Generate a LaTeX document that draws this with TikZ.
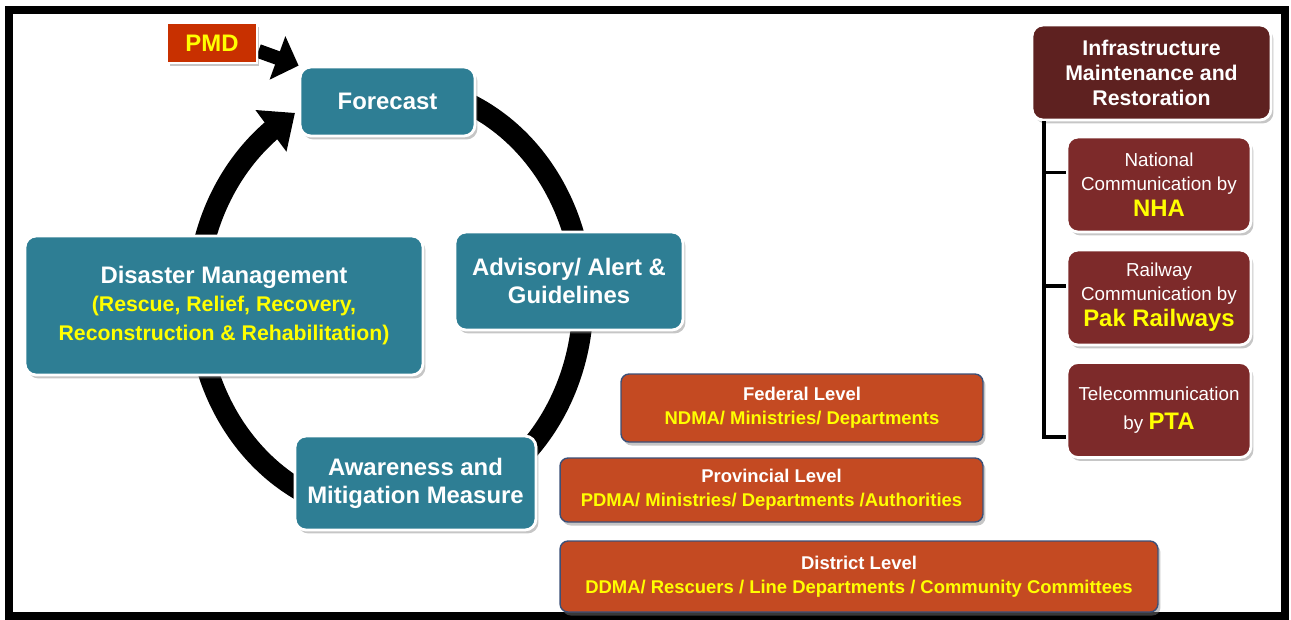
\documentclass[tikz,border=0pt]{standalone}
\usepackage{fontspec}
\setmainfont{Liberation Sans}
\usetikzlibrary{arrows.meta,bending,shadows,backgrounds}

\definecolor{cycleteal}{RGB}{46,126,148}
\definecolor{pmdred}{RGB}{200,48,0}
\definecolor{levelorange}{RGB}{196,74,34}
\definecolor{levelrim}{RGB}{60,80,120}
\definecolor{infradark}{RGB}{94,33,32}
\definecolor{infrared}{RGB}{125,42,42}
\definecolor{hiyellow}{RGB}{255,255,0}

\newcommand{\cyclefont}{\fontsize{13.6}{16}\selectfont\bfseries}
\newcommand{\subfont}{\fontsize{12.1}{16}\selectfont\bfseries\color{hiyellow}}
\newcommand{\levelfont}{\fontsize{10.5}{13.6}\selectfont\bfseries}
\newcommand{\infrafont}{\fontsize{12.1}{14.2}\selectfont\bfseries}
\newcommand{\commfont}{\fontsize{10.7}{13.8}\selectfont}
\newcommand{\tagfont}{\fontsize{13.6}{16}\selectfont\bfseries\color{hiyellow}}

\begin{document}
\begin{tikzpicture}[x=0.02cm,y=-0.02cm,
		box/.style={rounded corners=0.22cm, align=center, text=white, inner sep=0pt,
			drop shadow={shadow xshift=0.05cm,shadow yshift=-0.07cm,opacity=0.45}},
		cyclebox/.style={box, fill=cycleteal, draw=white, line width=1.6pt, font=\cyclefont},
		levelbox/.style={box, rounded corners=0.16cm, fill=levelorange, draw=levelrim, line width=0.8pt, font=\levelfont},
		infrabox/.style={box, fill=infradark, draw=white, line width=1.6pt, font=\infrafont},
		commbox/.style={infrabox, fill=infrared, font=\commfont, minimum width=3.68cm, minimum height=1.9cm},
		ring/.style={line width=0.42cm, -{Triangle[length=0.6cm,width=1cm]}},
		feed/.style={line width=0.28cm, -{Triangle[length=0.45cm,width=0.9cm]}},
		branch/.style={line width=2.2pt}]
	\useasboundingbox (0,0) rectangle (1291,619);
	\draw [line width=0.16cm] (9,10) rectangle (1284.5,615.5);

	\node [cyclebox, fill=pmdred, rounded corners=0pt, text=hiyellow, minimum width=1.8cm, minimum height=0.8cm] (pmd) at (212,43) {PMD};
	\node [cyclebox, minimum width=3.5cm, minimum height=1.38cm] (forecast) at (387.5,101.5) {Forecast};
	\node [cyclebox, minimum width=4.56cm, minimum height=1.96cm] (advisory) at (569,281) {Advisory/ Alert \&\\Guidelines};
	\node [cyclebox, minimum width=7.96cm, minimum height=2.78cm] (disaster) at (224,305.5) {Disaster Management\\\subfont(Rescue, Relief, Recovery,\\\subfont Reconstruction \& Rehabilitation)};
	\node [cyclebox, minimum width=4.82cm, minimum height=1.88cm] (awareness) at (415.5,483) {Awareness and\\Mitigation Measure};

	\node [levelbox, minimum width=7.24cm, minimum height=1.36cm] (federal) at (802,408) {Federal Level\\\color{hiyellow}NDMA/ Ministries/ Departments};
	\node [levelbox, minimum width=8.46cm, minimum height=1.28cm] (provincial) at (771.5,490) {Provincial Level\\\color{hiyellow}PDMA/ Ministries/ Departments /Authorities};
	\node [levelbox, minimum width=11.96cm, minimum height=1.42cm] (district) at (859,576.5) {District Level\\\color{hiyellow}DDMA/ Rescuers / Line Departments / Community Committees};

	\node [infrabox, minimum width=4.78cm, minimum height=1.9cm] (infra) at (1151.5,72.5) {Infrastructure\\Maintenance and\\Restoration};
	\node [commbox] (nha) at (1159,184.5) {National\\Communication by\\[1pt]{\tagfont NHA}};
	\node [commbox] (rail) at (1159,297.5) {Railway\\Communication by\\[1pt]{\tagfont Pak Railways}};
	\node [commbox] (tele) at (1159,410) {Telecommunication\\[3pt]by {\tagfont PTA}};

	\coordinate (trunk) at ([xshift=0.26cm]infra.south west);
	\draw [branch] (trunk) |- ([yshift=-0.54cm]tele.west);
	\draw [branch] (trunk) |- ([yshift=0.24cm]nha.west);
	\draw [branch] (trunk) |- ([yshift=0.23cm]rail.west);

	\begin{scope}[on background layer]
		\coordinate (ringc) at (390,300);
		\draw [ring] (ringc) ++(70:3.86cm and 4.3cm) arc [start angle=70, end angle=-240.5, x radius=3.86cm, y radius=4.3cm];
		\draw [feed] ([yshift=-0.16cm]pmd.east) -- (forecast.north west);
	\end{scope}
\end{tikzpicture}
\end{document}
